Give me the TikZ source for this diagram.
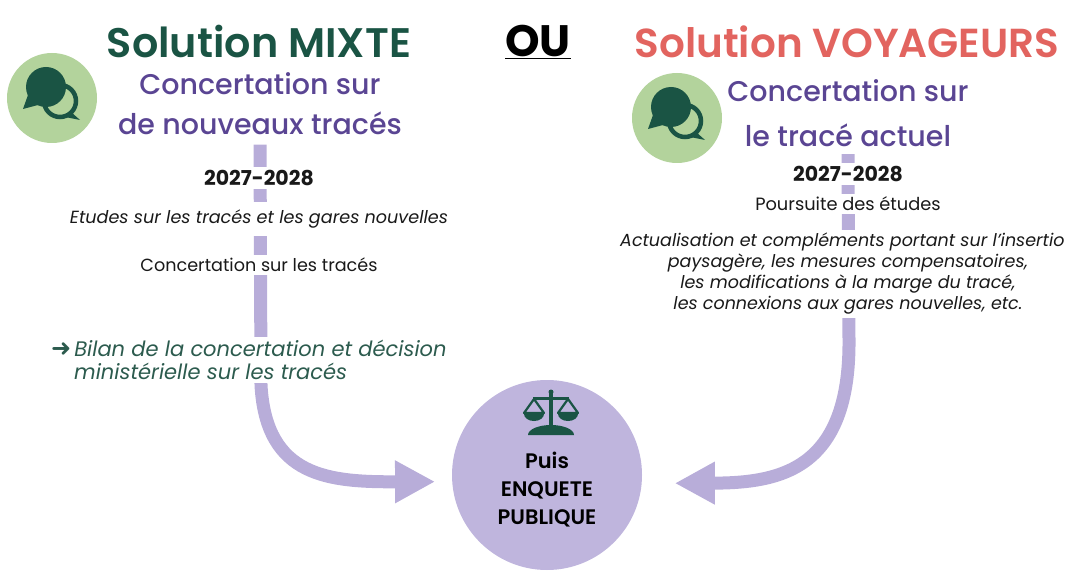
\documentclass[tikz,border=0pt]{standalone}
\usepackage{fontspec}
\setmainfont{Poppins}
\newfontfamily\demi{Poppins SemiBold}
\newfontfamily\moyen{Poppins Medium}
\newfontfamily\fleche{DejaVu Sans}
\usetikzlibrary{arrows.meta,backgrounds}
\definecolor{vertfonce}{HTML}{1A5444}
\definecolor{vertclair}{HTML}{B3D39C}
\definecolor{violet}{HTML}{5A4593}
\definecolor{lavande}{HTML}{B8ADD9}
\definecolor{saumon}{HTML}{E2645F}
\definecolor{vertbilan}{HTML}{2C5B4E}
\newcommand{\taille}[2]{\fontsize{#1}{#2}\selectfont}
\tikzset{
  bulles/.pic={
    \draw[vertfonce,line width=4.5pt] (8,3) circle (16);
    \fill[vertfonce] (19,14) -- (28,22) -- (13,19) -- cycle;
    \fill[vertfonce] (-6,-11) circle (20);
    \fill[vertfonce] (-24,-3) -- (-29,11) -- (-14,7) -- cycle;
  },
  balance/.pic={
    \fill[vertfonce] (-2,-21) rectangle (2,12);
    \fill[vertfonce] (0,-22) circle (2.5);
    \fill[vertfonce] (-18,-17) rectangle (18,-14);
    \draw[vertfonce,line width=2.2pt,line join=round] (-27,-1) -- (-17,-15) -- (-7,-1) -- cycle;
    \draw[vertfonce,line width=2.2pt,line join=round] (7,-1) -- (17,-15) -- (27,-1) -- cycle;
    \fill[vertfonce] (-27,0) arc (180:0:10 and 7) -- cycle;
    \fill[vertfonce] (7,0) arc (180:0:10 and 7) -- cycle;
    \fill[vertfonce] (-23,21) arc (180:360:23 and 10) -- cycle;
  }
}
\begin{document}
\begin{tikzpicture}[x=1pt,y=-1pt,
    txt/.style={fill=white,inner sep=3pt,align=center,text=black!90},
    rond/.style={circle,fill=vertclair,minimum size=90pt,inner sep=0pt},
    flux/.style={draw=lavande,line width=13pt,-{Triangle[length=40pt,width=40pt]}}]
  \useasboundingbox (0,0) rectangle (1065,585);
  % titres
  \node[text=vertfonce,font=\taille{41.3}{48}\demi] (mixte) at (259,41) {Solution MIXTE};
  \node[font=\taille{44}{48}\bfseries] (ou) at (538,42) {\underline{OU}};
  \node[text=saumon,font=\taille{40.5}{48}\demi] (voyageurs) at (847,42) {Solution VOYAGEURS};
  % solution mixte
  \node[rond] (bulleA) at (52,98) {};
  \pic at (bulleA) {bulles};
  \node[align=center,text=violet,font=\taille{28.5}{40}\moyen] (concA) at (260,104) {Concertation sur\\de nouveaux tracés};
  \node[txt,font=\taille{20.5}{24}\bfseries] (datesA) at (259,178) {2027-2028};
  \node[txt,inner sep=8pt,font=\taille{17.6}{20}\itshape] (etudesA) at (259,219) {Etudes sur les tracés et les gares nouvelles};
  \node[txt,font=\taille{17.6}{20}] (tracesA) at (259,265) {Concertation sur les tracés};
  \node[txt,anchor=west,align=left,text=vertbilan,font=\taille{21}{23}\itshape] (bilan) at (48,360)
    {{\fleche\upshape\taille{24}{23}➜}\hspace{3pt}Bilan de la concertation et décision\\\hspace*{23pt}ministérielle sur les tracés};
  % solution voyageurs
  \node[rond] (bulleB) at (677,118) {};
  \pic at (bulleB) {bulles};
  \node[align=center,text=violet,font=\taille{28.5}{45}\moyen] (concB) at (848,113) {Concertation sur\\le tracé actuel};
  \node[txt,font=\taille{20.5}{24}\bfseries] (datesB) at (848,174) {2027-2028};
  \node[txt,font=\taille{17.8}{20}] (poursuite) at (848,204) {Poursuite des études};
  \node[txt,font=\taille{17.5}{21}\itshape] (actu) at (848,274)
    {Actualisation et compléments portant sur l’insertio\phantom{n}\\paysagère, les mesures compensatoires,\\les modifications à la marge du tracé,\\les connexions aux gares nouvelles, etc.};
  % enquete publique
  \node[circle,fill=lavande!90!white,minimum size=190pt] (enquete) at (547,475) {};
  \pic at (551,414) {balance};
  \node[align=center,font=\taille{21}{28}\demi] (puis) at (547,490) {Puis\\ENQUETE\\PUBLIQUE};
  \begin{scope}[on background layer]
    \draw[flux,shorten <=6pt,shorten >=17pt] (concA.south) -- (261,385)
      .. controls (266,478) and (330,482) .. (enquete.184);
    \draw[flux,shorten <=4pt,shorten >=33pt] (concB.south) -- (849,340)
      .. controls (850,470) and (780,483) .. (enquete.355);
  \end{scope}
\end{tikzpicture}
\end{document}
